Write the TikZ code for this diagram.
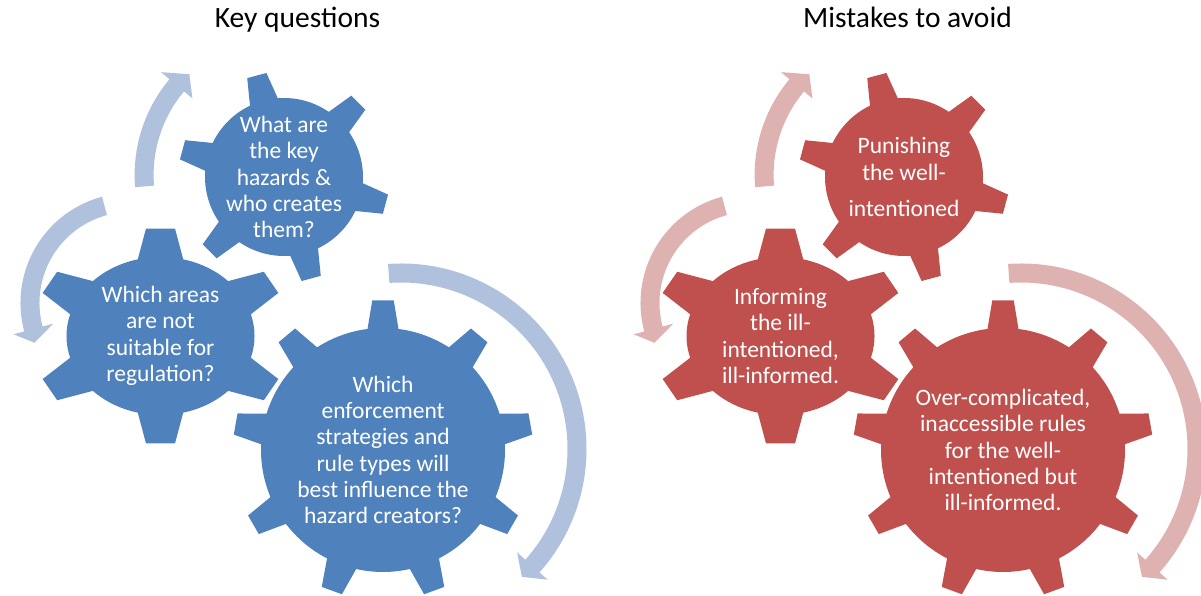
\documentclass[tikz,border=0pt]{standalone}
\usepackage{fontspec}
\setmainfont{Carlito}

\definecolor{gearblue}{RGB}{79,129,189}
\definecolor{ringblue}{RGB}{176,193,221}
\definecolor{gearred}{RGB}{192,80,77}
\definecolor{ringred}{RGB}{222,178,177}

% gear: centre, style, teeth, tip r, root r, tip half angle, base half angle, first tooth
\newcommand{\gear}[8]{%
  \pgfmathtruncatemacro{\lastk}{#3-1}%
  \pgfmathsetmacro{\pitch}{360/#3}%
  \fill[shift={(#1)}, #2] (#8-#7:#5)
    \foreach \k [evaluate=\k as \ang using {#8+\pitch*\k}] in {0,...,\lastk} {
      -- (\ang-#6:#4) -- (\ang+#6:#4) -- (\ang+#7:#5)
      arc[start angle=\ang+#7, end angle=\ang+\pitch-#7, radius=#5]
    } -- cycle;}

% ring arrow: centre, style, start, end, r in, r out, head spread, tip angle, tip r
\newcommand{\ringarrow}[9]{%
  \fill[shift={(#1)}, #2] (#3:#6) arc[start angle=#3, end angle=#4, radius=#6]
    -- (#4:#6+#7) -- (#8:#9) -- (#4:#5-#7) -- (#4:#5)
    arc[start angle=#4, end angle=#3, radius=#5] -- cycle;}

\begin{document}
\begin{tikzpicture}[x=1pt, y=1pt,
	geartext/.style={text=white, align=center, inner sep=0pt, font=\fontsize{23.5}{26.3}\selectfont},
	heading/.style={anchor=base, inner sep=0pt, font=\fontsize{29.5}{32}\selectfont}]
	\useasboundingbox (0, 0) rectangle (1201, 596);

	% gear centres
	\coordinate (bigB) at (383, 146);
	\coordinate (topB) at (284, 419);
	\coordinate (leftB) at (160.5, 260);
	\coordinate (bigR) at (1003, 146);
	\coordinate (topR) at (904, 419);
	\coordinate (leftR) at (780.5, 260);

	% ring centres
	\coordinate (ringbigB) at (401, 147);
	\coordinate (ringtopB) at (283.6, 421);
	\coordinate (ringleftB) at (130.5, 293);
	\coordinate (ringbigR) at (1021, 147);
	\coordinate (ringtopR) at (903.6, 421);
	\coordinate (ringleftR) at (750.5, 293);

	\node[heading] at (297.5, 568.5) (keyq) {Key questions};
	\node[heading] at (907.5, 568.5) (mistakes) {Mistakes to avoid};

	\ringarrow{ringbigB}{ringblue}{94}{-41.7}{166.5}{185.5}{11}{-46.6}{176}
	\ringarrow{ringtopB}{ringblue}{184.7}{140}{130}{149}{11}{133.1}{138}
	\ringarrow{ringleftB}{ringblue}{105}{195}{91}{110}{11}{202.5}{104}
	\ringarrow{ringbigR}{ringred}{94}{-41.7}{166.5}{185.5}{11}{-46.6}{176}
	\ringarrow{ringtopR}{ringred}{184.7}{140}{130}{149}{11}{133.1}{138}
	\ringarrow{ringleftR}{ringred}{105}{195}{91}{110}{11}{202.5}{104}

	\gear{bigB}{gearblue}{9}{150}{122}{4.1}{7.3}{90}
	\gear{topB}{gearblue}{6}{105.5}{79}{5.4}{10.5}{45}
	\gear{leftB}{gearblue, xscale=1.19}{6}{108}{79}{6.5}{14}{30}
	\gear{bigR}{gearred}{9}{150}{122}{4.1}{7.3}{90}
	\gear{topR}{gearred}{6}{105.5}{79}{5.4}{10.5}{45}
	\gear{leftR}{gearred, xscale=1.19}{6}{108}{79}{6.5}{14}{30}

	\node[geartext] at (topB) (hazards) {What are\\the key\\hazards \&\\who creates\\them?};
	\node[geartext] at (leftB) (areas) {Which areas\\are not\\suitable for\\regulation?};
	\node[geartext] at (bigB) (strategies) {Which\\enforcement\\strategies and\\rule types will\\best influence the\\hazard creators?};
	\node[geartext] at (topR) (punishing) {Punishing\\the well-\\[10pt]intentioned};
	\node[geartext] at (leftR) (informing) {Informing\\the ill-\\intentioned,\\ill-informed.};
	\node[geartext] at (bigR) (overcomp) {Over-complicated,\\inaccessible rules\\for the well-\\intentioned but\\ill-informed.};
\end{tikzpicture}
\end{document}
